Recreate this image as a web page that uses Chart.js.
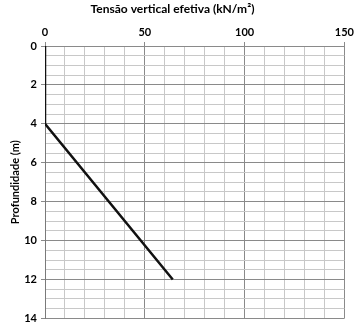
<!DOCTYPE html>
<html>
<head>
<meta charset="utf-8">
<script src="https://cdn.jsdelivr.net/npm/chart.js@4"></script>
<style>
  html, body { margin: 0; padding: 0; background: #fff; }
  #wrap { width: 357px; height: 329px; }
</style>
</head>
<body>
<div id="wrap"><canvas id="chartCanvas"></canvas></div>
<script>
// Perfil de tensão vertical efetiva
const tensao = [0, 0, 64];        // kN/m²
const profundidade = [0, 4, 12];  // m

const xTicks = [0, 50, 100, 150];
const yTicks = [0, 2, 4, 6, 8, 10, 12, 14];

const points = tensao.map((x, i) => ({ x: x, y: profundidade[i] }));

const fonte = { family: 'Lato, "Open Sans", sans-serif', size: 11, weight: 'bold' };
const fonteTitulo = { family: 'Lato, "Open Sans", sans-serif', size: 12, weight: 'bold' };

function isMajor(value, list) {
    return list.includes(value);
}

const ctx = document.getElementById('chartCanvas').getContext('2d');
const chart = new Chart(ctx, {
    type: 'scatter',
    data: {
        datasets: [{
            data: points,
            showLine: true,
            borderColor: '#111',
            borderWidth: 2.5,
            pointRadius: 0,
            fill: false,
            tension: 0
        }]
    },
    options: {
        responsive: true,
        maintainAspectRatio: false,
        animation: false,
        layout: { padding: { left: 0, right: 12, top: 0, bottom: 8 } },
        plugins: {
            legend: { display: false },
            tooltip: { enabled: false },
            title: {
                display: true,
                text: 'Tensão vertical efetiva (kN/m²)',
                color: '#000',
                font: fonteTitulo,
                padding: { top: 2, bottom: 2 }
            }
        },
        scales: {
            x: {
                type: 'linear',
                position: 'top',
                min: 0,
                max: 150,
                afterFit: (scale) => { scale.height = 27.6; },
                ticks: {
                    stepSize: 10,
                    autoSkip: false,
                    maxRotation: 0,
                    padding: 3,
                    color: '#000',
                    font: fonte,
                    callback: (v) => isMajor(v, xTicks) ? v : ''
                },
                grid: {
                    color: (c) => isMajor(c.tick.value, xTicks) ? '#8a8a8a' : '#c8c8c8',
                    tickColor: (c) => isMajor(c.tick.value, xTicks) ? '#8a8a8a' : 'rgba(0,0,0,0)',
                    tickLength: 4,
                    lineWidth: 1
                },
                border: { color: '#8a8a8a' }
            },
            y: {
                type: 'linear',
                reverse: true,
                min: 0,
                max: 14,
                afterFit: (scale) => { scale.width = 45; },
                ticks: {
                    stepSize: 0.5,
                    autoSkip: false,
                    padding: 4,
                    color: '#000',
                    font: fonte,
                    callback: (v) => isMajor(v, yTicks) ? v : ''
                },
                grid: {
                    color: (c) => isMajor(c.tick.value, yTicks) ? '#8a8a8a' : '#c8c8c8',
                    tickColor: (c) => isMajor(c.tick.value, yTicks) ? '#8a8a8a' : 'rgba(0,0,0,0)',
                    tickLength: 4,
                    lineWidth: 1
                },
                border: { color: '#7a7a7a', width: 1 },
                title: {
                    display: true,
                    text: 'Profundidade (m)',
                    color: '#000',
                    font: fonte,
                    padding: { top: 9, bottom: 0 }
                }
            }
        }
    }
});
</script>
</body>
</html>
